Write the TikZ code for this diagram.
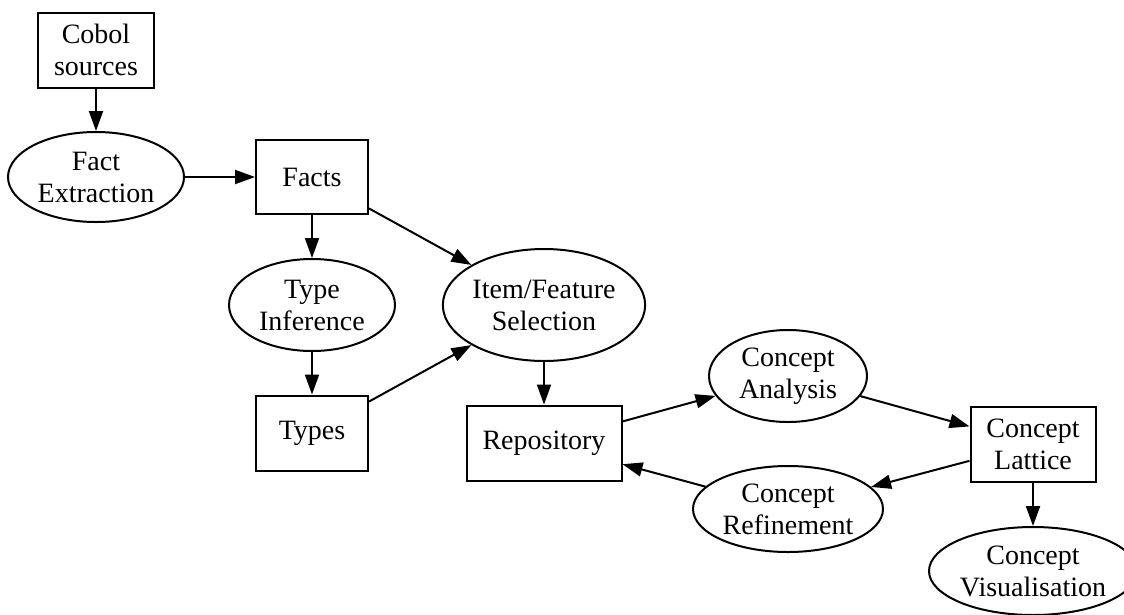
\documentclass[tikz,border=0pt]{standalone}
\usepackage{fontspec}
\setmainfont{Liberation Serif}
\usetikzlibrary{shapes.geometric,arrows.meta}
\begin{document}
\begin{tikzpicture}[x=1pt,y=-1pt,
  every node/.style={font=\fontsize{28}{32}\selectfont, align=center, inner sep=0pt, line width=2pt},
  boxnode/.style={draw, rectangle, minimum width=#1},
  boxnode/.default=112pt,
  ellnode/.style 2 args={draw, ellipse, minimum width=#1, minimum height=#2},
  edge/.style={line width=2pt, -{Triangle[length=20pt,width=14pt]}}]
\useasboundingbox[fill=white] (0,0) rectangle (1124,614);
\clip (0,0) rectangle (1124,614);
\node[boxnode=116pt, minimum height=75pt] (cobol) at (96,50) {Cobol\\sources};
\node[ellnode={176pt}{90pt}] (factex) at (96,177) {Fact\\Extraction};
\node[boxnode=112pt, minimum height=74pt] (facts) at (312,177) {Facts};
\node[ellnode={166pt}{92pt}] (typeinf) at (312,305) {Type\\Inference};
\node[boxnode=112pt, minimum height=75pt] (types) at (312,433) {Types};
\node[ellnode={202pt}{112pt}] (itemfeat) at (544,305) {Item/Feature\\Selection};
\node[boxnode=155pt, minimum height=75pt] (repo) at (544,443) {Repository};
\node[ellnode={158pt}{92pt}] (canal) at (788,376) {Concept\\Analysis};
\node[boxnode=125pt, minimum height=75pt] (clat) at (1033,444) {Concept\\Lattice};
\node[ellnode={190pt}{86pt}] (cref) at (788,509) {Concept\\Refinement};
\node[ellnode={208pt}{88pt}] (cvis) at (1033,571) {Concept\\Visualisation};
\draw[edge] (cobol) -- (factex);
\draw[edge] (factex) -- (facts);
\draw[edge] (facts) -- (typeinf);
\draw[edge] (facts) -- (itemfeat);
\draw[edge] (typeinf) -- (types);
\draw[edge] (types) -- (itemfeat);
\draw[edge] (itemfeat) -- (repo);
\draw[edge] (repo) -- (canal);
\draw[edge] (canal) -- (clat);
\draw[edge] (clat) -- (cref);
\draw[edge] (cref) -- (repo);
\draw[edge] (clat) -- (cvis);
\end{tikzpicture}
\end{document}
